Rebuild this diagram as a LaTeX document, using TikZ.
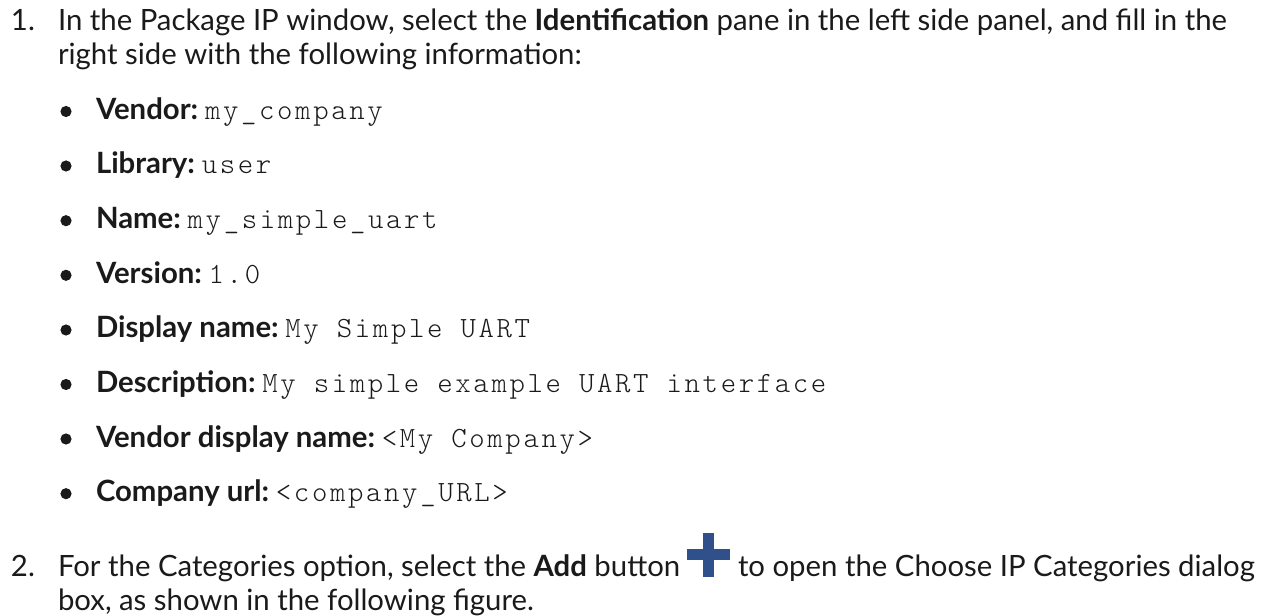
\documentclass[tikz,border=0pt]{standalone}
\usepackage{fontspec}
\setmainfont{Lato}
\definecolor{txt}{HTML}{1A1A1A}
\definecolor{plusblue}{HTML}{30508C}
\tikzset{
  line/.style={anchor=base west,inner sep=0pt,outer sep=0pt,text=txt,font=\fontsize{22pt}{27pt}\selectfont},
  bul/.style={circle,fill=txt,inner sep=0pt,minimum size=8.4pt},
  plusbar/.style={fill=plusblue,draw=none,inner sep=0pt,outer sep=0pt},
}
\newfontfamily\codefont[LetterSpace=9]{Latin Modern Mono Light}
\newcommand{\cc}[1]{{\hspace{-2.4pt}\fontsize{22pt}{27pt}\selectfont\codefont #1}}
\begin{document}
\begin{tikzpicture}[x=0.75pt,y=-0.75pt]
\useasboundingbox (0,0) rectangle (1271,616);
\node[line] (a1) at (11,31) {1.};
\node[line] (a2) at (58,31) {In the Package IP window, select the \textbf{Identification} pane in the left side panel, and fill in the};
\node[line] (a3) at (58,64.5) {right side with the following information:};
\foreach \n/\y/\t in {
 b1/119.5/{\textbf{Vendor:} \cc{my\_company}},
 b2/174/{\textbf{Library:} \cc{user}},
 b3/228.7/{\textbf{Name:} \cc{my\_simple\_uart}},
 b4/283.3/{\textbf{Version:} \cc{1.0}},
 b5/338/{\textbf{Display name:} \cc{My Simple UART}},
 b6/392.5/{\textbf{Description:} \cc{My simple example UART interface}},
 b7/447/{\textbf{Vendor display name:} \cc{<My Company>}},
 b8/501.7/{\textbf{Company url:} \cc{<company\_URL>}}}{
  \node[line] (\n) at (96,\y) {\t};
  \node[bul] (\n d) at (66,\y-8) {};
}
\node[line] (c1) at (11,576) {2.};
\node[line] (c2) at (58,576) {For the Categories option, select the \textbf{Add} button};
\node[line] (c3) at (738,576) {to open the Choose IP Categories dialog};
\node[line] (c4) at (58,610) {box, as shown in the following figure.};
\node[plusbar,minimum width=32.25pt,minimum height=8.25pt] (plush) at (708.5,554.5) {};
\node[plusbar,minimum width=8.25pt,minimum height=33pt] (plusv) at (708.5,555) {};
\end{tikzpicture}
\end{document}
